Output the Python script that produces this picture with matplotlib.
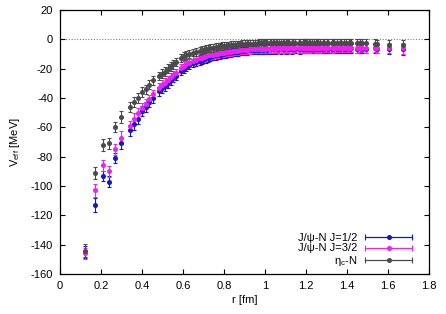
import matplotlib
matplotlib.use('Agg')
import matplotlib.pyplot as plt
from matplotlib.lines import Line2D
from matplotlib.legend_handler import HandlerLine2D
from matplotlib.ticker import FormatStrFormatter, MultipleLocator

plt.rcParams['font.family'] = ['Liberation Sans', 'DejaVu Sans']
plt.rcParams['mathtext.fontset'] = 'custom'
plt.rcParams['mathtext.rm'] = 'Liberation Sans'
plt.rcParams['font.size'] = 8

# lattice distances r [fm]
r = [0.121, 0.171, 0.209, 0.241, 0.270, 0.296, 0.341, 0.362, 0.382, 0.400,
     0.418, 0.435, 0.452, 0.483, 0.498, 0.512, 0.526, 0.540, 0.553, 0.566,
     0.591, 0.604, 0.615, 0.627, 0.650, 0.661, 0.683, 0.693, 0.704, 0.714,
     0.724, 0.734, 0.744, 0.763, 0.773, 0.782, 0.791, 0.801, 0.810, 0.819,
     0.836, 0.845, 0.853, 0.862, 0.870, 0.879, 0.887, 0.903, 0.911, 0.919,
     0.927, 0.943, 0.950, 0.966, 0.973, 0.981, 0.988, 0.995, 1.003, 1.010,
     1.024, 1.031, 1.038, 1.045, 1.052, 1.059, 1.066, 1.080, 1.086, 1.093,
     1.100, 1.106, 1.113, 1.119, 1.132, 1.139, 1.145, 1.164, 1.170, 1.183,
     1.189, 1.195, 1.201, 1.207, 1.213, 1.219, 1.231, 1.237, 1.249, 1.254,
     1.260, 1.266, 1.283, 1.289, 1.300, 1.306, 1.328, 1.333, 1.339, 1.349,
     1.366, 1.371, 1.387, 1.397, 1.408, 1.413, 1.418, 1.448, 1.463, 1.473,
     1.493, 1.536, 1.546, 1.606, 1.672]

# J/psi-N, J=1/2
v_j12 = [-145, -113, -93, -97, -81, -71, -62, -58, -54, -49,
         -46, -43, -40, -35.5, -33.5, -32, -30, -28, -26.5, -25,
         -21.5, -20, -19, -17.5, -16, -15.5, -14.5, -14, -13.5, -13,
         -12.5, -12, -11.5, -11, -10.7, -10.4, -10.1, -9.8, -9.6, -9.4,
         -9, -8.8, -8.6, -8.5, -8.3, -8.1, -8, -7.7, -7.6, -7.5,
         -7.4, -7.2, -7.1, -7.0, -7.0, -6.8, -7.1, -6.9, -6.7, -7.0,
         -6.8, -6.6, -6.9, -6.7, -6.8, -6.5, -6.7, -6.9, -6.6, -6.5,
         -6.8, -6.7, -6.4, -6.6, -6.7, -6.5, -6.4, -6.6, -6.7, -6.3,
         -6.5, -6.6, -6.4, -6.5, -6.3, -6.6, -6.4, -6.3, -6.5, -6.4,
         -6.2, -6.5, -6.3, -6.4, -6.2, -6.4, -6.3, -6.5, -6.2, -6.3,
         -6.4, -6.1, -6.3, -6.4, -6.2, -6.3, -6.1, -6.4, -6.2, -6.3,
         -6.4, -6.1, -6.3, -6.5, -6.8]
e_j12 = [4.0, 5.0, 3.5, 3.5, 3.5, 4.0, 3.6, 3.5, 3.4, 3.4,
         3.3, 3.3, 3.2, 3.1, 3.1, 3.0, 3.0, 3.0, 2.9, 2.9,
         2.9, 2.9, 2.8, 2.8, 2.8, 2.8, 2.8, 2.8, 2.8, 2.8,
         2.8, 2.8, 2.8, 2.8, 2.8, 2.8, 2.8, 2.8, 2.8, 2.8,
         2.8, 2.8, 2.8, 2.8, 2.8, 2.8, 2.8, 2.8, 2.8, 2.8,
         2.8, 2.8, 2.8, 2.8, 2.9, 2.9, 2.9, 2.9, 2.9, 2.9,
         2.9, 2.9, 2.9, 2.9, 2.9, 2.9, 2.9, 2.9, 2.9, 2.9,
         3.0, 3.0, 3.0, 3.0, 3.0, 3.0, 3.0, 3.0, 3.0, 3.0,
         3.0, 3.0, 3.0, 3.0, 3.0, 3.0, 3.0, 3.0, 3.0, 3.0,
         3.0, 3.0, 3.0, 3.0, 3.0, 3.0, 3.0, 3.0, 3.0, 3.0,
         3.0, 3.0, 3.0, 3.0, 3.0, 3.0, 3.0, 3.1, 3.1, 3.1,
         3.1, 3.3, 3.3, 3.6, 3.8]

# J/psi-N, J=3/2
v_j32 = [-146, -103, -86, -90, -75, -67, -59, -54, -50, -47,
         -44, -41, -37.5, -33, -31, -29.5, -28, -26, -24.5, -23,
         -19.5, -18, -17, -16, -14.5, -14, -13, -12.5, -12, -11.5,
         -11, -10.7, -10.4, -10, -9.7, -9.4, -9.2, -9, -8.8, -8.6,
         -8.3, -8.1, -8, -7.8, -7.7, -7.5, -7.4, -7.2, -7.1, -7.0,
         -6.9, -6.8, -6.7, -6.6, -6.5, -6.3, -6.6, -6.4, -6.2, -6.5,
         -6.3, -6.1, -6.4, -6.2, -6.3, -6.0, -6.2, -6.4, -6.1, -6.0,
         -6.3, -6.2, -5.9, -6.1, -6.2, -6.0, -5.9, -6.1, -6.2, -5.8,
         -6.0, -6.1, -5.9, -6.0, -5.8, -6.1, -5.9, -5.8, -6.0, -5.9,
         -5.7, -6.0, -5.8, -5.9, -5.7, -5.9, -5.8, -6.0, -5.7, -5.8,
         -5.9, -5.6, -5.8, -5.9, -5.7, -5.8, -5.6, -5.9, -5.7, -5.8,
         -5.9, -5.6, -5.8, -6.0, -6.2]
e_j32 = [4.0, 4.5, 3.8, 3.6, 3.8, 4.2, 3.6, 3.5, 3.4, 3.4,
         3.3, 3.3, 3.2, 3.1, 3.1, 3.0, 3.0, 3.0, 2.9, 2.9,
         2.9, 2.9, 2.8, 2.8, 2.8, 2.8, 2.8, 2.8, 2.8, 2.8,
         2.8, 2.8, 2.8, 2.8, 2.8, 2.8, 2.8, 2.8, 2.8, 2.8,
         2.8, 2.8, 2.8, 2.8, 2.8, 2.8, 2.8, 2.8, 2.8, 2.8,
         2.8, 2.8, 2.8, 2.8, 2.9, 2.9, 2.9, 2.9, 2.9, 2.9,
         2.9, 2.9, 2.9, 2.9, 2.9, 2.9, 2.9, 2.9, 2.9, 2.9,
         3.0, 3.0, 3.0, 3.0, 3.0, 3.0, 3.0, 3.0, 3.0, 3.0,
         3.0, 3.0, 3.0, 3.0, 3.0, 3.0, 3.0, 3.0, 3.0, 3.0,
         3.0, 3.0, 3.0, 3.0, 3.0, 3.0, 3.0, 3.0, 3.0, 3.0,
         3.0, 3.0, 3.0, 3.0, 3.0, 3.0, 3.0, 3.1, 3.1, 3.1,
         3.1, 3.3, 3.3, 3.6, 3.8]

# eta_c-N
v_etac = [-144, -91, -72, -71, -60, -53, -46, -43, -40, -36,
          -34, -31, -28, -25, -23.5, -22, -20, -18.5, -17, -15.5,
          -12.5, -11.5, -10.5, -10, -9, -8.5, -7.8, -7.4, -7, -6.6,
          -6.3, -6, -5.7, -5.3, -5, -4.8, -4.6, -4.4, -4.3, -4.1,
          -3.9, -3.8, -3.7, -3.6, -3.5, -3.4, -3.3, -3.2, -3.1, -3.0,
          -3.0, -2.9, -2.9, -2.8, -2.8, -2.6, -2.7, -2.9, -2.6, -2.5,
          -2.7, -2.6, -2.8, -2.5, -2.6, -2.7, -2.5, -2.4, -2.6, -2.7,
          -2.5, -2.6, -2.4, -2.5, -2.7, -2.5, -2.4, -2.6, -2.5, -2.3,
          -2.6, -2.5, -2.4, -2.6, -2.5, -2.3, -2.4, -2.6, -2.5, -2.4,
          -2.3, -2.5, -2.6, -2.4, -2.3, -2.5, -2.4, -2.6, -2.3, -2.4,
          -2.5, -2.3, -2.6, -2.4, -2.5, -2.3, -2.4, -2.7, -2.5, -2.6,
          -2.8, -3.2, -3.4, -3.6, -4.0]
e_etac = [4.5, 4.0, 3.8, 3.6, 3.5, 3.8, 3.4, 3.4, 3.3, 3.3,
          3.2, 3.2, 3.1, 3.0, 3.0, 3.0, 2.9, 2.9, 2.9, 2.8,
          2.8, 2.8, 2.8, 2.7, 2.7, 2.7, 2.7, 2.7, 2.6, 2.6,
          2.6, 2.6, 2.6, 2.6, 2.6, 2.6, 2.6, 2.6, 2.6, 2.6,
          2.6, 2.6, 2.6, 2.6, 2.6, 2.6, 2.6, 2.6, 2.6, 2.6,
          2.6, 2.6, 2.6, 2.6, 2.7, 2.7, 2.7, 2.7, 2.7, 2.7,
          2.7, 2.7, 2.7, 2.7, 2.7, 2.7, 2.7, 2.7, 2.7, 2.7,
          2.8, 2.8, 2.8, 2.8, 2.8, 2.8, 2.8, 2.8, 2.8, 2.8,
          2.8, 2.8, 2.8, 2.8, 2.8, 2.8, 2.8, 2.8, 2.8, 2.8,
          2.8, 2.8, 2.8, 2.8, 2.8, 2.8, 2.8, 2.8, 2.8, 2.8,
          2.8, 2.8, 2.8, 2.8, 2.8, 2.8, 2.8, 2.9, 2.9, 2.9,
          2.9, 3.1, 3.1, 3.4, 3.6]

series = [
    (v_j12, e_j12, '#1414d2', 'J/ψ-N J=1/2'),
    (v_j32, e_j32, '#f020f0', 'J/ψ-N J=3/2'),
    (v_etac, e_etac, '#4a4a4a', 'η$_\\mathregular{c}$-N'),
]

fig = plt.figure(figsize=(4.46, 3.14), dpi=100)
ax = fig.add_axes([60 / 446, 1 - 274 / 314, 369 / 446, 264 / 314])

ax.axhline(0, color='#808080', lw=0.8, ls=(0, (1, 1.5)), zorder=1)

handles = []
hmap = {}
for v, e, c, lab in series:
    ax.errorbar(r, v, yerr=e, fmt='o', ms=2.6, color=c, ecolor=c,
                elinewidth=0.8, capsize=1.4, capthick=0.8, zorder=3)
    caps = Line2D([], [], ls='none', marker='|', ms=5, mew=0.8, color=c)
    mid = Line2D([], [], ls='-', lw=0.9, marker='o', ms=2.6, color=c)
    handles.append((caps, mid))
    hmap[caps] = HandlerLine2D(numpoints=2, marker_pad=0)

ax.legend(handles, [s[3] for s in series], handler_map=hmap,
          loc='lower right', bbox_to_anchor=(1 - 17 / 369, 6 / 264),
          frameon=False, markerfirst=False, borderpad=0, borderaxespad=0,
          handlelength=4.2, handletextpad=0.7, labelspacing=0.05,
          fontsize=8)

ax.set_xlim(0, 1.8)
ax.set_ylim(-160, 20)
ax.xaxis.set_major_locator(MultipleLocator(0.2))
ax.yaxis.set_major_locator(MultipleLocator(20))
ax.xaxis.set_major_formatter(FormatStrFormatter('%g'))
ax.yaxis.set_major_formatter(FormatStrFormatter('%g'))
ax.tick_params(direction='in', top=True, right=True, length=3.5, width=0.8,
               labelsize=8, pad=5)
for s in ax.spines.values():
    s.set_linewidth(0.9)

ax.set_xlabel('r [fm]', fontsize=8, labelpad=3)
ax.set_ylabel('V$_\\mathregular{eff}$ [MeV]', fontsize=8, labelpad=6)

fig.savefig('out.png', dpi=100)
